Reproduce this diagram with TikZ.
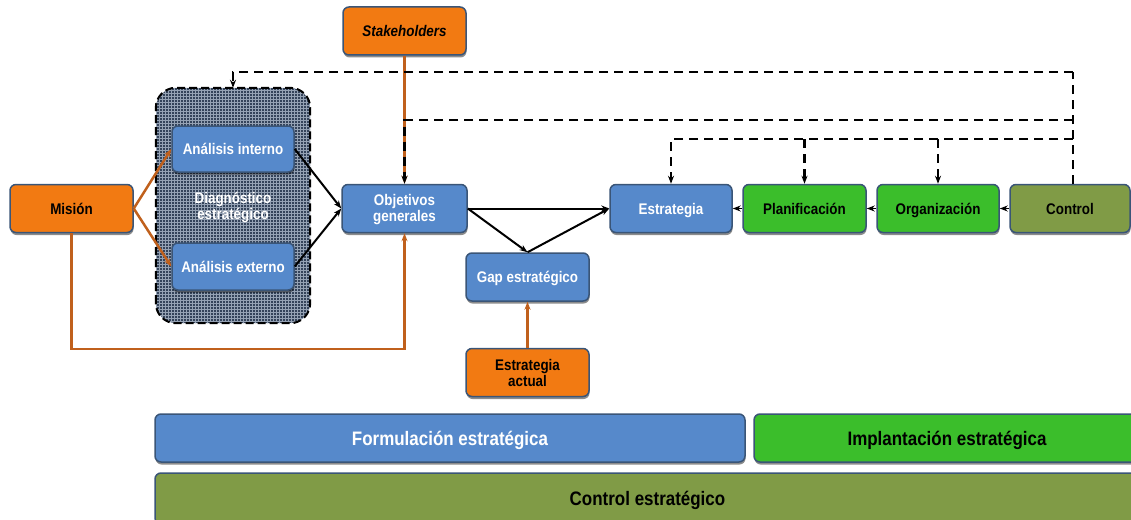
\documentclass[tikz,border=0pt]{standalone}
\usepackage{fontspec}
\setmainfont{Liberation Sans}[FakeStretch=0.87]
\usetikzlibrary{arrows.meta,shadows}

\definecolor{bluefill}{HTML}{5689CB}
\definecolor{orangefill}{HTML}{F27A12}
\definecolor{greenfill}{HTML}{3BBE2B}
\definecolor{olivefill}{HTML}{809B46}
\definecolor{bordc}{HTML}{3A5577}
\definecolor{orangeline}{HTML}{C0601C}
\definecolor{gridbg}{HTML}{34435A}
\definecolor{gridln}{HTML}{95A2B4}

\newcommand\bxfont{\fontsize{15.4}{16}\selectfont\bfseries}
\newcommand\barfont{\fontsize{19.5}{21}\selectfont\bfseries}

\tikzset{
  procbox/.style={rounded corners=6pt, draw=bordc, line width=1.5pt,
    minimum width=123pt, minimum height=48pt, inner sep=0pt, align=center,
    font=\bxfont,
    drop shadow={shadow xshift=0.5pt, shadow yshift=-2.5pt, opacity=0.45, fill=black}},
  oneline/.style={text height=11pt, text depth=0pt},
  bluebox/.style={procbox, fill=bluefill, text=white},
  orangebox/.style={procbox, fill=orangefill, text=black},
  greenbox/.style={procbox, fill=greenfill, text=black},
  olivebox/.style={procbox, fill=olivefill, text=black},
  phasebar/.style={procbox, font=\barfont, text height=14pt, text depth=0pt},
  blackarrow/.style={draw=black, line width=2pt, -{Stealth[length=8pt,width=6pt]}},
  orangearrow/.style={draw=orangeline, line width=2.5pt, -{Stealth[length=8pt,width=6pt]}},
  feedback/.style={draw=black, line width=2.6pt, dash pattern=on 9pt off 6pt},
  feedtip/.style={-{Stealth[length=8pt,width=6pt]}},
}

\begin{document}
\begin{tikzpicture}[x=1pt,y=-1pt]
\useasboundingbox (0,0) rectangle (1131,519);

% diagnosis container with fine grid texture
\node[rounded corners=20pt, fill=gridbg, minimum width=154pt, minimum height=235pt,
      inner sep=0pt] (diag) at (233,205.5) {};
\begin{scope}
  \clip[rounded corners=20pt] (diag.south west) rectangle (diag.north east);
  \draw[gridln, line width=0.6pt, step=3pt] (150,80) grid (316,330);
\end{scope}
\draw[black, line width=2pt, dash pattern=on 8pt off 4pt, rounded corners=20pt]
  (diag.south west) rectangle (diag.north east);
\node[text=white, font=\bxfont, align=center] (diaglbl) at (233,207)
  {Diagnóstico\\estratégico};

% process boxes
\node[orangebox, oneline] (stake) at (404.5,31) {\itshape Stakeholders};
\node[orangebox, oneline] (mision) at (71.5,208.5) {Misión};
\node[bluebox, oneline, minimum width=122pt, minimum height=46pt] (aint) at (233,149) {Análisis interno};
\node[bluebox, oneline, minimum width=122pt, minimum height=47pt] (aext) at (233,266.5) {Análisis externo};
\node[bluebox, minimum width=125pt] (obj) at (404.5,208.5) {\rule{0pt}{13pt}Objetivos\\generales};
\node[bluebox, oneline] (gap) at (527.5,277) {Gap estratégico};
\node[orangebox] (eact) at (527.5,372.5) {\rule{0pt}{13pt}Estrategia\\actual};
\node[bluebox, oneline, minimum width=122pt] (estr) at (671,208.5) {Estrategia};
\node[greenbox, oneline] (plan) at (804.5,208.5) {Planificación};
\node[greenbox, oneline, minimum width=122pt] (org) at (938,208.5) {Organización};
\node[olivebox, oneline, minimum width=120pt] (ctrl) at (1070,208.5) {Control};

% phase bars
\node[phasebar, fill=bluefill, text=white, minimum width=590pt] (formul) at (450,438) {Formulación estratégica};
\node[phasebar, fill=greenfill, text=black, minimum width=386pt] (impl) at (947,438) {Implantación estratégica};
\node[phasebar, fill=olivefill, text=black, minimum width=985pt, minimum height=51pt] (ctrlest) at (647.5,498.5) {Control estratégico};

% orange connectors
\draw[orangearrow] (mision.east) -- (aint.west);
\draw[orangearrow] (mision.east) -- (aext.west);
\coordinate (mbl) at (71.5,349);
\draw[orangearrow] (mision.south) -- (mbl) -| (obj.south);
\draw[orangearrow] (stake.south) -- (obj.north);
\draw[orangearrow] (eact.north) -- (gap.south);

% black connectors
\draw[blackarrow] (aint.east) -- (obj.west);
\draw[blackarrow] (aext.east) -- (obj.west);
\draw[blackarrow] (obj.east) -- (estr.west);
\draw[blackarrow] (obj.east) -- (gap.north);
\draw[blackarrow] (gap.north) -- (estr.west);
\draw[blackarrow, line width=1.5pt] (plan.west) -- (estr.east);
\draw[blackarrow, line width=1.5pt] (org.west) -- (plan.east);
\draw[blackarrow, line width=1.5pt] (ctrl.west) -- (org.east);

% dashed feedback loops from control
\coordinate (ctop) at (1073,184);
\coordinate (k1) at (1073,72);
\coordinate (k2) at (1073,120);
\coordinate (k3) at (1073,139);
\draw[feedback] (ctop) -- (k1);
\draw[feedback, feedtip] (k1) -| (diag.north);
\draw[feedback, feedtip] (k2) -| (obj.north);
\draw[feedback, feedtip] (k3) -| (estr.north);
\draw[feedback, feedtip] (plan.north |- k3) -- (plan.north);
\draw[feedback, feedtip] (org.north |- k3) -- (org.north);
\end{tikzpicture}
\end{document}
